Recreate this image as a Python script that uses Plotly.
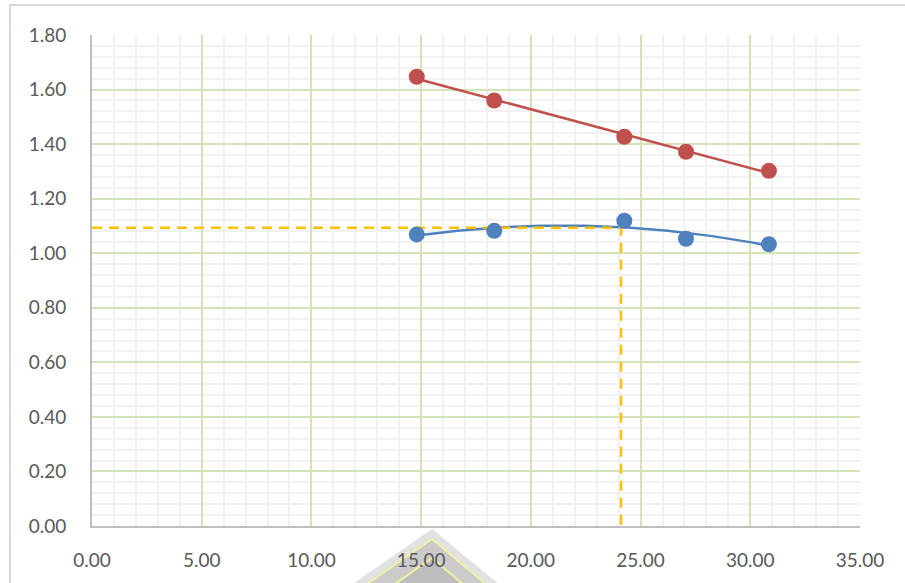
import numpy as np
import plotly.graph_objects as go

# measured points
x_upper = [14.80, 18.33, 24.26, 27.07, 30.85]
y_upper = [1.647, 1.560, 1.427, 1.372, 1.302]

x_lower = [14.80, 18.33, 24.26, 27.07, 30.85]
y_lower = [1.069, 1.082, 1.119, 1.053, 1.033]

# read-off guide (x at the optimum, value on the lower curve)
guide_x = 24.11
guide_y = 1.093

x_ticks = [0, 5, 10, 15, 20, 25, 30, 35]
y_ticks = [0.0, 0.2, 0.4, 0.6, 0.8, 1.0, 1.2, 1.4, 1.6, 1.8]

RED = "#C0504D"
BLUE = "#4F81BD"
GOLD = "#FFC000"

# trendlines: linear for the upper series, 2nd-order polynomial for the lower one
xs_u = np.linspace(min(x_upper), max(x_upper), 100)
ys_u = np.polyval(np.polyfit(x_upper, y_upper, 1), xs_u)
xs_l = np.linspace(min(x_lower), max(x_lower), 200)
ys_l = np.polyval(np.polyfit(x_lower, y_lower, 2), xs_l)

fig = go.Figure()

fig.add_trace(go.Scatter(x=xs_u, y=ys_u, mode="lines",
                         line=dict(color=RED, width=2.5), hoverinfo="skip"))
fig.add_trace(go.Scatter(x=xs_l, y=ys_l, mode="lines",
                         line=dict(color=BLUE, width=2.5), hoverinfo="skip"))

# dashed guide lines
fig.add_trace(go.Scatter(x=[0, guide_x, guide_x], y=[guide_y, guide_y, 0],
                         mode="lines",
                         line=dict(color=GOLD, width=2.5, dash="10px,7px")))

fig.add_trace(go.Scatter(x=x_upper, y=y_upper, mode="markers",
                         marker=dict(color=RED, size=16)))
fig.add_trace(go.Scatter(x=x_lower, y=y_lower, mode="markers",
                         marker=dict(color=BLUE, size=16)))

# plot area in pixels: left 92, right 860, top 35, bottom 526
L, R, T, B = 92, 860, 35, 526


def px(v):
    return (v - L) / (R - L)


def py(v):
    return (B - v) / (B - T)


def tri(apex_x, apex_y, left_x, right_x, base_y):
    return (f"M {px(apex_x)} {py(apex_y)} L {px(left_x)} {py(base_y)} "
            f"L {px(right_x)} {py(base_y)} Z")


shapes = [
    # chart border
    dict(type="rect", xref="paper", yref="paper",
         x0=px(10), x1=px(920), y0=py(600), y1=py(5),
         line=dict(color="#d9d9d9", width=2), fillcolor="rgba(0,0,0,0)",
         layer="below"),
    # faint emblem at the bottom
    dict(type="path", xref="paper", yref="paper", layer="below",
         path=tri(432, 529, 344, 506, 590),
         fillcolor="rgba(205,205,205,0.6)", line=dict(width=0)),
    dict(type="path", xref="paper", yref="paper", layer="below",
         path=tri(432, 539, 357, 494, 591),
         fillcolor="rgba(188,188,188,0.6)",
         line=dict(color="rgba(242,242,160,0.95)", width=2)),
    dict(type="path", xref="paper", yref="paper", layer="below",
         path=tri(432, 558, 385, 471, 591),
         fillcolor="rgba(180,180,180,0.6)",
         line=dict(color="rgba(242,242,160,0.95)", width=2)),
]

tick_font = dict(family="Lato, Carlito, Calibri, sans-serif", size=19, color="#595959")

fig.update_layout(
    width=905, height=583,
    margin=dict(l=L, r=905 - R, t=T, b=583 - B),
    paper_bgcolor="white", plot_bgcolor="white",
    showlegend=False,
    shapes=shapes,
    xaxis=dict(
        range=[0, 35], tickvals=x_ticks, tickformat=".2f",
        showgrid=True, gridcolor="#d5e3b8", gridwidth=1.5,
        minor=dict(dtick=1, showgrid=True, gridcolor="#f1f1f1", gridwidth=2),
        showline=True, linecolor="#bfbfbf", linewidth=2,
        zeroline=False, ticks="", ticklabelstandoff=16,
        tickfont=tick_font, fixedrange=True,
    ),
    yaxis=dict(
        range=[0, 1.8], tickvals=y_ticks, tickformat=".2f",
        showgrid=True, gridcolor="#d5e3b8", gridwidth=1.5,
        minor=dict(dtick=0.04, showgrid=True, gridcolor="#f1f1f1", gridwidth=2),
        showline=True, linecolor="#bfbfbf", linewidth=2,
        zeroline=False, ticks="", ticklabelstandoff=20,
        tickfont=tick_font, fixedrange=True,
    ),
)

fig.write_html("out.html")
